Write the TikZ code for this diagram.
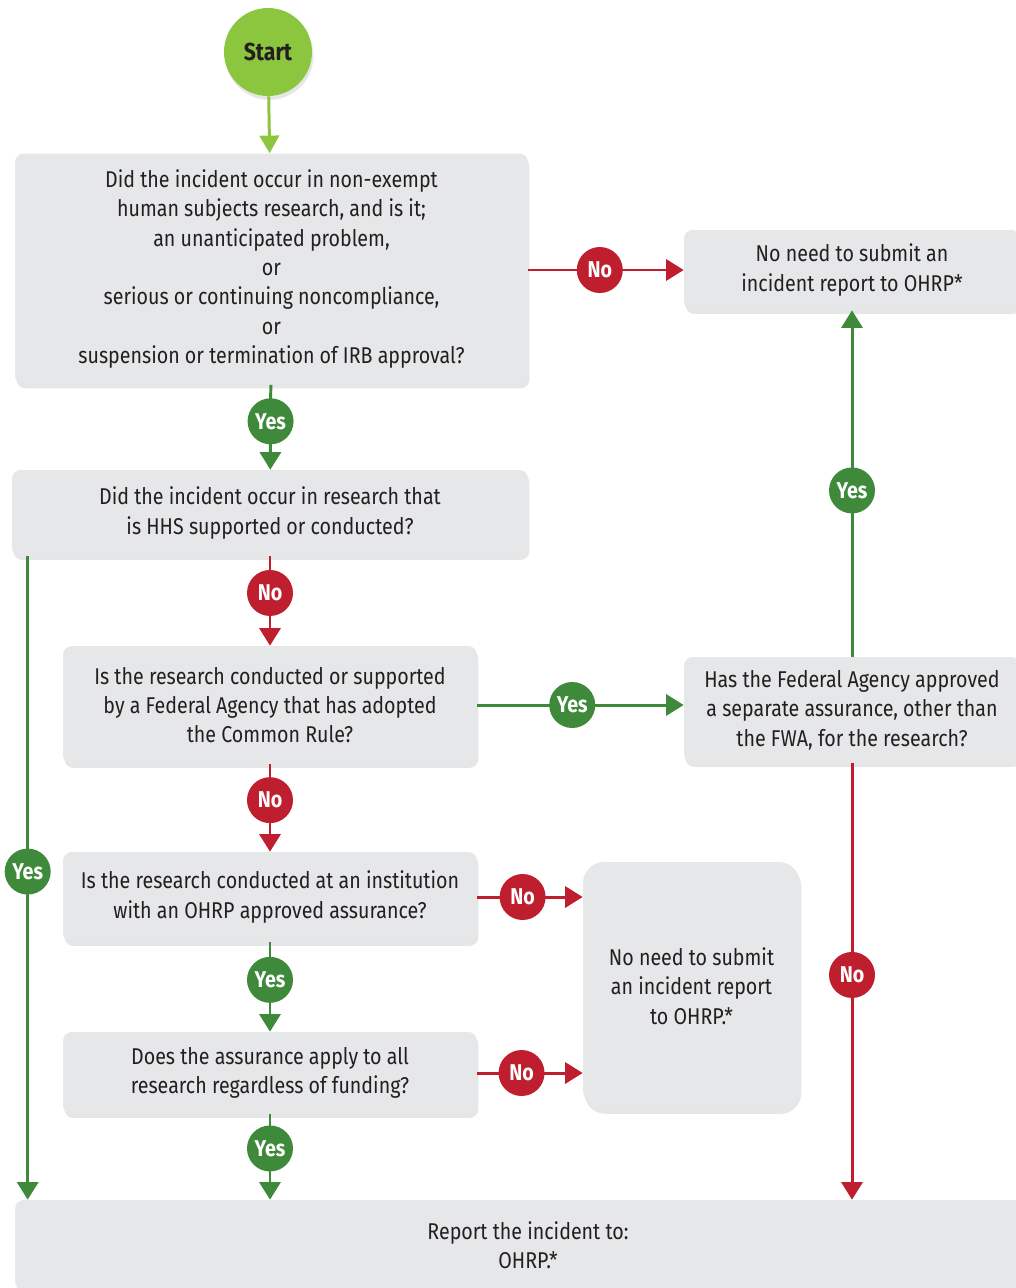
\documentclass[tikz,border=0pt]{standalone}
\usepackage{fontspec}
\setmainfont[FakeStretch=0.86]{Fira Sans}
\usetikzlibrary{arrows.meta,positioning,shadows,calc}
\definecolor{boxgray}{HTML}{E6E7E8}
\definecolor{txtgray}{HTML}{231F20}
\definecolor{startgreen}{HTML}{8CC63F}
\definecolor{yesgreen}{HTML}{3E8A3A}
\definecolor{nored}{HTML}{BE1E2D}

\begin{document}
\begin{tikzpicture}[
    x=0.02cm, y=-0.02cm,
    font=\fontsize{13}{16.7}\selectfont,
    box/.style={rectangle, fill=boxgray, rounded corners=5pt, align=center, text=txtgray, inner sep=2pt,
        drop shadow={opacity=0.2, shadow xshift=0.8pt, shadow yshift=-2.2pt, fill=black!50}},
    badge/.style={circle, minimum size=0.92cm, inner sep=0pt, text=white, font=\fontsize{13}{14}\selectfont\bfseries},
    yes/.style={badge, fill=yesgreen},
    no/.style={badge, fill=nored},
    yesarrow/.style={draw=yesgreen, line width=1.7pt, -{Triangle[width=12pt, length=10pt]}},
    noarrow/.style={draw=nored, line width=1.7pt, -{Triangle[width=12pt, length=10pt]}},
    yesline/.style={draw=yesgreen, line width=1.7pt}
]
    \useasboundingbox (0,0) rectangle (1016,1288);

    % Start
    \node[circle, fill=startgreen, minimum size=1.76cm, inner sep=0pt, text=txtgray,
        font=\fontsize{14}{16}\selectfont\bfseries,
        drop shadow={opacity=0.2, shadow xshift=0.8pt, shadow yshift=-2.2pt}] (start) at (268,52) {Start};

    % Question boxes (left column)
    \node[box, minimum width=10.26cm, minimum height=4.62cm] (exempt) at (271.5,269)
        {Did the incident occur in non-exempt\\human subjects research, and is it;\\an unanticipated problem,\\or\\serious or continuing noncompliance,\\or\\suspension or termination of IRB approval?};
    \node[box, minimum width=10.32cm, minimum height=1.72cm] (hhs) at (270,513)
        {Did the incident occur in research that\\is HHS supported or conducted?};
    \node[box, minimum width=8.28cm, minimum height=2.36cm] (agency) at (270,705)
        {Is the research conducted or supported\\by a Federal Agency that has adopted\\the Common Rule?};
    \node[box, minimum width=8.28cm, minimum height=1.8cm] (ohrp) at (270,897)
        {Is the research conducted at an institution\\with an OHRP approved assurance?};
    \node[box, minimum width=8.28cm, minimum height=1.64cm] (funding) at (270,1073)
        {Does the assurance apply to all\\research regardless of funding?};

    % Right column
    \node[box, minimum width=6.72cm, minimum height=1.6cm] (noneedtop) at (852,270)
        {No need to submit an\\incident report to OHRP*};
    \node[box, minimum width=6.72cm, minimum height=2.12cm] (separate) at (852,710)
        {Has the Federal Agency approved\\a separate assurance, other than\\the FWA, for the research?};
    \node[box, rounded corners=12pt, minimum width=4.34cm, minimum height=4.96cm] (noneedmid) at (691.5,986)
        {No need to submit\\an incident report\\to OHRP.*};

    % Report
    \node[box, minimum width=20.52cm, minimum height=1.8cm] (report) at (528,1245)
        {Report the incident to:\\OHRP.*};

    % Main flow
    \draw[draw=startgreen, line width=1.7pt, -{Triangle[width=11pt, length=10pt]}] (start) -- (exempt);
    \draw[yesarrow] (exempt) -- node[yes, pos=0.43] {Yes} (hhs);
    \draw[noarrow] (hhs) -- node[no, pos=0.41] {No} (agency);
    \draw[noarrow] (agency) -- node[no, pos=0.41] {No} (ohrp);
    \draw[yesarrow] (ohrp) -- node[yes, pos=0.42] {Yes} (funding);
    \draw[yesarrow] (funding) -- node[yes, pos=0.4] {Yes} (funding |- report.north);

    % Side branches
    \draw[noarrow] (exempt.east |- noneedtop) -- node[no, pos=0.46] {No} (noneedtop.west);
    \draw[yesarrow] (agency.east) -- node[yes, pos=0.46] {Yes} (agency.east -| separate.west);
    \draw[noarrow] (ohrp.east) -- node[no, pos=0.43] {No} (ohrp.east -| noneedmid.west);
    \draw[noarrow] (funding.east) -- node[no, pos=0.42] {No} (funding.east -| noneedmid.west);
    \draw[yesarrow] (separate) -- node[yes, pos=0.48] {Yes} (noneedtop);
    \draw[noarrow] (separate) -- node[no, pos=0.485] {No} (separate |- report.north);

    % HHS supported
    \draw[yesarrow] ([xshift=0.32cm]hhs.south west) -- node[yes, pos=0.49] {Yes} ([xshift=0.32cm]hhs.south west |- report.north);

\end{tikzpicture}
\end{document}
